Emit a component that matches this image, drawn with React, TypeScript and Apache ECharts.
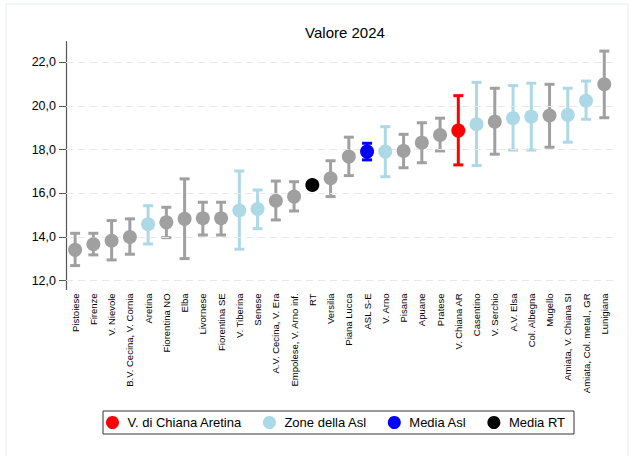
import React, { useEffect, useRef } from "react";
import * as echarts from "echarts";

const categories = [
  "Pistoiese", "Firenze", "V. Nievole", "B.V. Cecina, V. Cornia", "Aretina",
  "Fiorentina NO", "Elba", "Livornese", "Fiorentina SE", "V. Tiberina",
  "Senese", "A.V. Cecina, V. Era", "Empolese, V. Arno inf.", "RT", "Versilia",
  "Piana Lucca", "ASL S-E", "V. Arno", "Pisana", "Apuane",
  "Pratese", "V. Chiana AR", "Casentino", "V. Serchio", "A.V. Elsa",
  "Col. Albegna", "Mugello", "Amiata, V. Chiana SI", "Amiata, Col. metal., GR", "Lunigiana",
];

const values = [
  13.41, 13.67, 13.83, 14.0, 14.58,
  14.67, 14.83, 14.86, 14.86, 15.21,
  15.28, 15.66, 15.85, 16.38, 16.69,
  17.68, 17.91, 17.91, 17.94, 18.32,
  18.67, 18.87, 19.16, 19.28, 19.44,
  19.51, 19.56, 19.59, 20.24, 20.99,
];

const lower = [
  12.69, 13.18, 12.95, 13.21, 13.68,
  13.97, 13.01, 14.09, 14.09, 13.44,
  14.38, 14.78, 15.19, null, 15.85,
  16.81, 17.53, 16.76, 17.17, 17.4,
  17.94, 17.3, 17.27, 17.79, 17.98,
  17.98, 18.11, 18.34, 19.39, 19.46,
];

const upper = [
  14.17, 14.17, 14.75, 14.83, 15.43,
  15.36, 16.66, 15.59, 15.59, 17.02,
  16.15, 16.56, 16.53, null, 17.49,
  18.57, 18.29, 19.05, 18.7, 19.23,
  19.44, 20.47, 21.08, 20.81, 20.93,
  21.04, 20.99, 20.81, 21.14, 22.51,
];

// group of each category: g = other, z = zone della Asl, a = V. di Chiana Aretina, m = Media Asl, r = Media RT
const groups = [
  "g", "g", "g", "g", "z",
  "g", "g", "g", "g", "z",
  "z", "g", "g", "r", "g",
  "g", "m", "z", "g", "g",
  "g", "a", "z", "g", "z",
  "z", "g", "z", "z", "g",
];

const yTicks = [12, 14, 16, 18, 20, 22];

const legendNames = ["V. di Chiana Aretina", "Zone della Asl", "Media Asl", "Media RT"];
const groupKeys = ["a", "z", "m", "r"];

const colors: Record<string, string> = {
  g: "#a0a0a0",
  z: "#add8e6",
  a: "#ff0000",
  m: "#0000ff",
  r: "#000000",
};

export default function App() {
  const ref = useRef<HTMLDivElement>(null);

  useEffect(() => {
    if (!ref.current) return;
    const chart = echarts.init(ref.current, null, { renderer: "svg" });

    const errData = categories.map((_, i) => [i, lower[i], upper[i]]).filter((d) => d[1] !== null);

    const pointSeries = (key: string, name: string | undefined) => ({
      type: "scatter",
      name,
      symbol: "circle",
      symbolSize: 14,
      z: 5,
      itemStyle: { color: colors[key], opacity: 1 },
      data: values.map((v, i) => (groups[i] === key ? v : "-")),
    });

    const option: any = {
      animation: false,
      backgroundColor: "#ffffff",
      textStyle: { fontFamily: "Liberation Sans, Arial, sans-serif" },
      graphic: [
        {
          type: "rect",
          shape: { x: 6, y: 4, width: 622, height: 470 },
          style: { fill: "none", stroke: "#e6eef2", lineWidth: 1 },
          silent: true,
        },
      ],
      title: {
        text: "Valore 2024",
        left: 340,
        top: 20,
        textAlign: "center",
        textStyle: { fontSize: 15, fontWeight: "normal", color: "#000", fontFamily: "Liberation Sans, Arial, sans-serif" },
      },
      legend: {
        data: legendNames,
        left: 103,
        top: 411,
        orient: "horizontal",
        icon: "circle",
        itemWidth: 20,
        itemHeight: 13,
        itemGap: 21,
        padding: [5, 9, 5, 3],
        borderColor: "#333",
        borderWidth: 1,
        textStyle: { fontSize: 13, color: "#000", fontFamily: "Liberation Sans, Arial, sans-serif" },
      },
      grid: { left: 66, right: 17.6, top: 41.5, bottom: 166.6, containLabel: false },
      xAxis: {
        type: "category",
        data: categories,
        boundaryGap: true,
        axisLine: { show: false },
        axisTick: { show: false },
        splitLine: { show: false },
        axisLabel: {
          interval: 0,
          rotate: 90,
          fontSize: 9.5,
          margin: 4,
          color: "#000",
          fontFamily: "Liberation Sans, Arial, sans-serif",
        },
      },
      yAxis: {
        type: "value",
        min: 11.6,
        max: 22.95,
        axisLine: { show: true, lineStyle: { color: "#555", width: 1.2 } },
        axisTick: { show: true, length: 7, lineStyle: { color: "#555" }, customValues: yTicks },
        splitLine: { show: false },
        axisLabel: {
          customValues: yTicks,
          fontSize: 12.5,
          color: "#000",
          margin: 10,
          fontFamily: "Liberation Sans, Arial, sans-serif",
          formatter: (v: number) => v.toFixed(1).replace(".", ","),
        },
      },
      series: [
        {
          type: "line",
          data: [],
          silent: true,
          markLine: {
            silent: true,
            symbol: ["none", "none"],
            label: { show: false },
            lineStyle: { color: "#e8e8e8", type: [7, 5], width: 1 },
            data: yTicks.map((t) => ({ yAxis: t })),
          },
        },
        {
          type: "custom",
          z: 3,
          silent: true,
          encode: { x: 0, y: [1, 2] },
          data: errData,
          renderItem: (params: any, api: any) => {
            const idx = api.value(0);
            const lo = api.coord([idx, api.value(1)]);
            const hi = api.coord([idx, api.value(2)]);
            const color = colors[groups[idx]];
            const hw = 5;
            const style = { stroke: color, lineWidth: 3 };
            return {
              type: "group",
              children: [
                { type: "line", shape: { x1: hi[0], y1: hi[1], x2: lo[0], y2: lo[1] }, style },
                { type: "line", shape: { x1: hi[0] - hw, y1: hi[1], x2: hi[0] + hw, y2: hi[1] }, style },
                { type: "line", shape: { x1: lo[0] - hw, y1: lo[1], x2: lo[0] + hw, y2: lo[1] }, style },
              ],
            };
          },
        },
        pointSeries("g", undefined),
        ...groupKeys.map((k, i) => pointSeries(k, legendNames[i])),
      ],
    };

    chart.setOption(option);
    return () => chart.dispose();
  }, []);

  return (
    <div
      ref={ref}
      style={{ position: "fixed", left: 0, top: 0, width: 631, height: 456 }}
    />
  );
}
